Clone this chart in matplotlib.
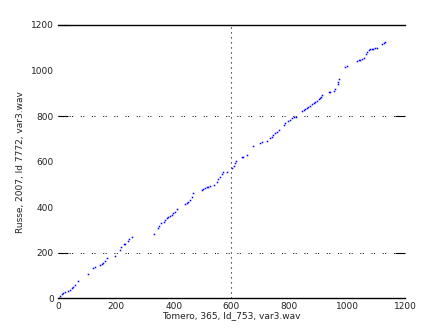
import matplotlib
matplotlib.use("Agg")
import matplotlib.pyplot as plt

x_vals = [2, 7, 13, 18, 24, 36, 42, 47, 53, 59, 70, 105, 122, 128, 145, 151, 157, 163, 168,
          197, 215, 217, 228, 233, 243, 247, 255, 333, 347, 351, 355, 365, 370, 376, 382, 388,
          393, 399, 405, 411, 440, 445, 451, 457, 463, 466, 497, 503, 509, 515, 520, 526, 538,
          549, 555, 561, 566, 572, 584, 601, 607, 613, 616, 636, 641, 653, 676, 699, 705, 722,
          734, 740, 745, 751, 757, 763, 780, 786, 797, 803, 809, 815, 824, 843, 849, 855, 861,
          866, 872, 878, 884, 890, 895, 901, 907, 910, 914, 936, 941, 953, 959, 968, 970, 973,
          993, 999, 1034, 1040, 1045, 1051, 1057, 1066, 1068, 1074, 1080, 1086, 1091, 1097,
          1103, 1120, 1126, 1132]
y_vals = [3, 10, 18, 25, 29, 34, 37, 44, 51, 58, 76, 107, 132, 136, 146, 151, 157, 165, 176,
          186, 212, 224, 237, 237, 253, 262, 268, 281, 307, 318, 329, 337, 344, 351, 356, 361,
          366, 373, 380, 391, 414, 420, 424, 432, 446, 461, 476, 478, 483, 487, 490, 493, 498,
          512, 522, 534, 546, 553, 553, 571, 581, 593, 604, 622, 622, 629, 669, 683, 685, 692,
          702, 710, 717, 724, 732, 739, 761, 768, 780, 783, 790, 795, 798, 822, 827, 831, 834,
          838, 844, 853, 859, 863, 868, 874, 878, 885, 893, 904, 907, 912, 917, 941, 951, 961,
          1014, 1020, 1043, 1046, 1046, 1049, 1054, 1073, 1083, 1090, 1095, 1095, 1096, 1098,
          1098, 1117, 1120, 1124]

ticks = [0, 200, 400, 600, 800, 1000, 1200]
x_label = "Tomero, 365, Id_753, var3.wav"
y_label = "Russe, 2007, Id 7772, var3.wav"

fig = plt.figure(figsize=(4.47, 3.35), dpi=100)
ax = fig.add_axes([58 / 447, 1 - 298.3 / 335, 347 / 447, 273.3 / 335])

ax.plot(x_vals, y_vals, linestyle="none", marker="s", markersize=1.1,
        markeredgewidth=0, color="#0000ff")

ax.set_xlim(0, 1200)
ax.set_ylim(0, 1200)
ax.set_xticks(ticks)
ax.set_yticks(ticks)
ax.tick_params(axis="both", direction="in", labelsize=6.5, labelcolor="#222222",
               length=7, width=0.8, pad=3)
ax.tick_params(axis="y", right=True)
ax.tick_params(axis="x", length=0)
for i, t in enumerate(ax.yaxis.get_major_ticks()):
    if ticks[i] not in (200, 800, 1200):
        t.tick1line.set_visible(False)
        t.tick2line.set_visible(False)
    if ticks[i] == 1200:
        t.tick2line.set_visible(False)

for s in ("left", "right"):
    ax.spines[s].set_visible(False)
for s in ("top", "bottom"):
    ax.spines[s].set_linewidth(1.0)

ax.axvline(600, color="black", linestyle=(0, (1, 3.5)), linewidth=0.8, zorder=0)
ax.axhline(200, color="black", linestyle=(0, (1, 1.5, 1, 8)), linewidth=0.7, zorder=0)
ax.axhline(800, color="black", linestyle=(0, (1, 1.5, 1, 8)), linewidth=0.7, zorder=0)

ax.set_xlabel(x_label, fontsize=6.5, color="#222222", labelpad=0)
ax.set_ylabel(y_label, fontsize=6.5, color="#222222", labelpad=4)

fig.savefig("out.png", dpi=100)
